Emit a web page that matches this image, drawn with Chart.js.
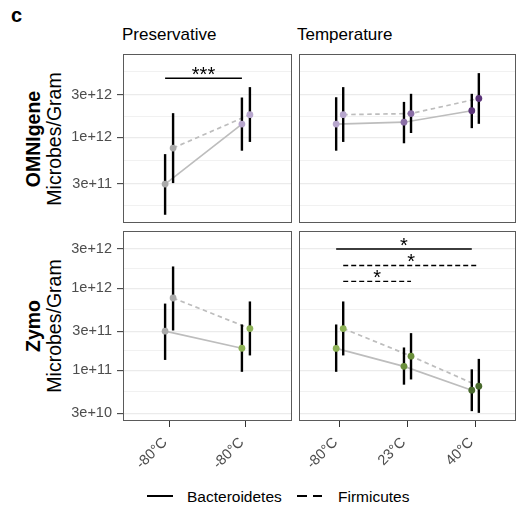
<!DOCTYPE html>
<html>
<head>
<meta charset="utf-8">
<script src="https://cdn.jsdelivr.net/npm/chart.js@4.4.1/dist/chart.umd.min.js"></script>
<style>
  html, body { margin: 0; padding: 0; background: #fff; }
  body { width: 527px; height: 520px; position: relative; overflow: hidden;
         font-family: "Liberation Sans", Arial, Helvetica, sans-serif; color: #000; }
  .abs { position: absolute; white-space: nowrap; }
  canvas { position: absolute; }
  .ylab { position: absolute; text-align: center; transform: rotate(-90deg); font-size: 19.5px; line-height: 21px; white-space: nowrap; }
</style>
</head>
<body>
<div class="abs" style="left:11px;top:5px;font-size:20px;line-height:20px;font-weight:bold;">c</div>
<div class="abs" style="left:122px;top:25.6px;font-size:17px;line-height:17px;">Preservative</div>
<div class="abs" style="left:297px;top:25.6px;font-size:17px;line-height:17px;">Temperature</div>

<div class="ylab" style="left:-51px;top:117.5px;width:190px;height:42px;"><b>OMNIgene</b><br>Microbes/Gram</div>
<div class="ylab" style="left:-51px;top:305px;width:190px;height:42px;"><b>Zymo</b><br>Microbes/Gram</div>

<canvas id="tl" width="293" height="171" style="left:0px;top:53px;"></canvas>
<canvas id="tr" width="219" height="171" style="left:298px;top:53px;"></canvas>
<canvas id="bl" width="293" height="251" style="left:0px;top:230px;"></canvas>
<canvas id="br" width="219" height="251" style="left:298px;top:230px;"></canvas>

<div class="abs" style="left:147px;top:494.5px;width:26px;height:0;border-top:2px solid #000;"></div>
<div class="abs" style="left:187px;top:488.9px;font-size:15.5px;line-height:15.5px;">Bacteroidetes</div>
<div class="abs" style="left:297px;top:494.5px;width:10px;height:0;border-top:2px solid #000;"></div>
<div class="abs" style="left:313px;top:494.5px;width:9px;height:0;border-top:2px solid #000;"></div>
<div class="abs" style="left:338px;top:488.9px;font-size:15.5px;line-height:15.5px;">Firmicutes</div>

<script>
// ---------------- data ----------------
const presCategories = ['-80°C', '-80°C'];
const tempCategories = ['-80°C', '23°C', '40°C'];
const seriesNames = ['Bacteroidetes', 'Firmicutes'];

// y-axis breaks (1-3 sequence) used for tick labels
const yBreaks = [1e10, 3e10, 1e11, 3e11, 1e12, 3e12, 1e13];

// OMNIgene – Preservative
const omniPresBactMean = [3.0e11, 1.41e12];
const omniPresBactLow  = [1.36e11, 7.1e11];
const omniPresBactHigh = [6.5e11, 2.8e12];
const omniPresFirmMean = [7.6e11, 1.8e12];
const omniPresFirmLow  = [3.08e11, 8.9e11];
const omniPresFirmHigh = [1.87e12, 3.66e12];
const omniPresColors   = ['#a9a9a9', '#b7a6cd'];
const omniPresSig = [{ from: 1, to: 2, series: 0, y: 4.6e12, label: '***' }];

// OMNIgene – Temperature
const omniTempBactMean = [1.41e12, 1.48e12, 1.99e12];
const omniTempBactLow  = [7.1e11, 8.6e11, 1.27e12];
const omniTempBactHigh = [2.82e12, 2.5e12, 3.08e12];
const omniTempFirmMean = [1.8e12, 1.85e12, 2.73e12];
const omniTempFirmLow  = [8.9e11, 1.12e12, 1.42e12];
const omniTempFirmHigh = [3.66e12, 3.08e12, 5.25e12];
const omniTempColors   = ['#b7a6cd', '#8a6ea6', '#5b3479'];
const omniTempSig = [];

// Zymo – Preservative
const zymoPresBactMean = [3.0e11, 1.86e11];
const zymoPresBactLow  = [1.34e11, 9.6e10];
const zymoPresBactHigh = [6.5e11, 3.62e11];
const zymoPresFirmMean = [7.6e11, 3.23e11];
const zymoPresFirmLow  = [3.06e11, 1.52e11];
const zymoPresFirmHigh = [1.84e12, 6.9e11];
const zymoPresColors   = ['#a9a9a9', '#8db256'];
const zymoPresSig = [];

// Zymo – Temperature
const zymoTempBactMean = [1.85e11, 1.12e11, 5.74e10];
const zymoTempBactLow  = [9.6e10, 6.7e10, 3.19e10];
const zymoTempBactHigh = [3.62e11, 1.9e11, 1.03e11];
const zymoTempFirmMean = [3.23e11, 1.49e11, 6.43e10];
const zymoTempFirmLow  = [1.52e11, 7.75e10, 3.04e10];
const zymoTempFirmHigh = [6.9e11, 2.84e11, 1.38e11];
const zymoTempColors   = ['#8db256', '#6a8f3b', '#48692c'];
const zymoTempSig = [
  { from: 1, to: 3, series: 0, y: 3.0e12, label: '*' },
  { from: 1, to: 3, series: 1, y: 1.89e12, label: '*' },
  { from: 1, to: 2, series: 1, y: 1.21e12, label: '*' }
];

// ---------------- drawing ----------------
const FONT = '"Liberation Sans", Arial, Helvetica, sans-serif';
const DODGE = 0.052;
const SERIES_DASH = [[], [4.5, 3.5]];
const SIG_DASH = [[], [5, 3]];

// minor gridlines: geometric midpoints between breaks
const yMinor = [];
for (let i = 0; i < yBreaks.length - 1; i++) yMinor.push(Math.sqrt(yBreaks[i] * yBreaks[i + 1]));
const yAllTicks = yBreaks.map(v => ({ value: v, major: true }))
  .concat(yMinor.map(v => ({ value: v, major: false })))
  .sort((a, b) => a.value - b.value);

function fmtBreak(v) { return v.toExponential(0); }

function buildPanel(id, p) {
  const n = p.categories.length;
  const datasets = [];
  const series = [p.bact, p.firm];
  series.forEach((s, si) => {
    const off = si === 0 ? -DODGE : DODGE;
    datasets.push({
      label: seriesNames[si] + ' line',
      data: s.mean.map((m, i) => ({ x: i + 1 + off, y: m })),
      borderColor: '#bdbdbd', borderWidth: 1.7, borderDash: SERIES_DASH[si],
      pointRadius: 0, order: 3
    });
    s.mean.forEach((m, i) => {
      datasets.push({
        label: seriesNames[si] + ' err ' + i,
        data: [{ x: i + 1 + off, y: s.low[i] }, { x: i + 1 + off, y: s.high[i] }],
        borderColor: '#000', borderWidth: 2.4, borderCapStyle: 'butt',
        pointRadius: 0, order: 2
      });
    });
    datasets.push({
      label: seriesNames[si],
      data: s.mean.map((m, i) => ({ x: i + 1 + off, y: m })),
      showLine: false, pointRadius: 3.4, pointBorderWidth: 0,
      pointBackgroundColor: p.colors, pointBorderColor: 'rgba(0,0,0,0)', order: 1
    });
  });
  p.sig.forEach((g, gi) => {
    const off = g.series === 0 ? -DODGE : DODGE;
    datasets.push({
      label: 'sig ' + gi,
      data: [{ x: g.from + off, y: g.y }, { x: g.to + off, y: g.y }],
      borderColor: '#000', borderWidth: 1.4, borderDash: SIG_DASH[g.series],
      borderCapStyle: 'butt', pointRadius: 0, order: 0
    });
  });

  const starPlugin = {
    id: 'stars',
    afterDatasetsDraw(chart) {
      const ctx = chart.ctx, xs = chart.scales.x, ys = chart.scales.y;
      ctx.save();
      ctx.fillStyle = '#000';
      ctx.font = '20px ' + FONT;
      ctx.textAlign = 'center';
      ctx.textBaseline = 'alphabetic';
      p.sig.forEach(g => {
        const off = g.series === 0 ? -DODGE : DODGE;
        const x = (xs.getPixelForValue(g.from + off) + xs.getPixelForValue(g.to + off)) / 2;
        const y = ys.getPixelForValue(g.y) + 3;
        ctx.fillText(g.label, x, y);
      });
      ctx.restore();
    }
  };
  const borderPlugin = {
    id: 'panelBorder',
    afterDraw(chart) {
      const a = chart.chartArea, ctx = chart.ctx;
      ctx.save();
      ctx.strokeStyle = '#5a5a5a';
      ctx.lineWidth = 1;
      ctx.strokeRect(Math.round(a.left) + 0.5, Math.round(a.top) + 0.5,
                     Math.round(a.right - a.left) - 1, Math.round(a.bottom - a.top) - 1);
      ctx.restore();
    }
  };

  return new Chart(document.getElementById(id), {
    type: 'line',
    data: { datasets },
    plugins: [starPlugin, borderPlugin],
    options: {
      responsive: false, animation: false, events: [],
      layout: {
        autoPadding: false,
        padding: { top: 1, bottom: p.showX ? 0 : 1, left: p.showY ? 0 : 1, right: 1 }
      },
      plugins: { legend: { display: false }, tooltip: { enabled: false } },
      scales: {
        x: {
          type: 'linear', min: 0.4, max: n + 0.6, display: p.showX,
          afterBuildTicks: sc => { sc.ticks = p.categories.map((c, i) => ({ value: i + 1 })); },
          afterFit: sc => { sc.height = p.showX ? 60 : 0; sc.paddingLeft = 0; sc.paddingRight = 0; },
          grid: { drawOnChartArea: false, drawTicks: true, tickLength: 6, color: '#333', lineWidth: 1 },
          border: { display: false },
          ticks: {
            autoSkip: false, minRotation: 45, maxRotation: 45, padding: 7, labelOffset: -4,
            color: '#4d4d4d', font: { family: FONT, size: 14.5 },
            callback: (v, i) => p.categories[i]
          }
        },
        y: {
          type: 'logarithmic', min: p.yMin, max: p.yMax,
          afterBuildTicks: sc => {
            sc.ticks = yAllTicks.filter(t => t.value >= p.yMin && t.value <= p.yMax)
                                .map(t => ({ value: t.value, major: t.major }));
          },
          afterFit: sc => { sc.width = p.showY ? 123 : 0; sc.paddingTop = 0; sc.paddingBottom = 0; },
          grid: {
            color: '#ebebeb',
            lineWidth: c => (c.tick && c.tick.major) ? 1.3 : 0.7,
            drawTicks: p.showY, tickLength: 6,
            tickColor: c => (c.tick && c.tick.major) ? '#333' : 'rgba(0,0,0,0)',
            tickWidth: 1
          },
          border: { display: false },
          ticks: {
            display: p.showY, autoSkip: false, padding: 5,
            color: '#4d4d4d', font: { family: FONT, size: 14.5 },
            callback: (v, i, t) => (t[i] && t[i].major) ? fmtBreak(v) : ''
          }
        }
      }
    }
  });
}

buildPanel('tl', {
  categories: presCategories, colors: omniPresColors, sig: omniPresSig,
  bact: { mean: omniPresBactMean, low: omniPresBactLow, high: omniPresBactHigh },
  firm: { mean: omniPresFirmMean, low: omniPresFirmLow, high: omniPresFirmHigh },
  yMin: 1.1e11, yMax: 8.6e12, showX: false, showY: true
});
buildPanel('tr', {
  categories: tempCategories, colors: omniTempColors, sig: omniTempSig,
  bact: { mean: omniTempBactMean, low: omniTempBactLow, high: omniTempBactHigh },
  firm: { mean: omniTempFirmMean, low: omniTempFirmLow, high: omniTempFirmHigh },
  yMin: 1.1e11, yMax: 8.6e12, showX: false, showY: false
});
buildPanel('bl', {
  categories: presCategories, colors: zymoPresColors, sig: zymoPresSig,
  bact: { mean: zymoPresBactMean, low: zymoPresBactLow, high: zymoPresBactHigh },
  firm: { mean: zymoPresFirmMean, low: zymoPresFirmLow, high: zymoPresFirmHigh },
  yMin: 2.42e10, yMax: 4.97e12, showX: true, showY: true
});
buildPanel('br', {
  categories: tempCategories, colors: zymoTempColors, sig: zymoTempSig,
  bact: { mean: zymoTempBactMean, low: zymoTempBactLow, high: zymoTempBactHigh },
  firm: { mean: zymoTempFirmMean, low: zymoTempFirmLow, high: zymoTempFirmHigh },
  yMin: 2.42e10, yMax: 4.97e12, showX: true, showY: false
});
</script>
</body>
</html>
